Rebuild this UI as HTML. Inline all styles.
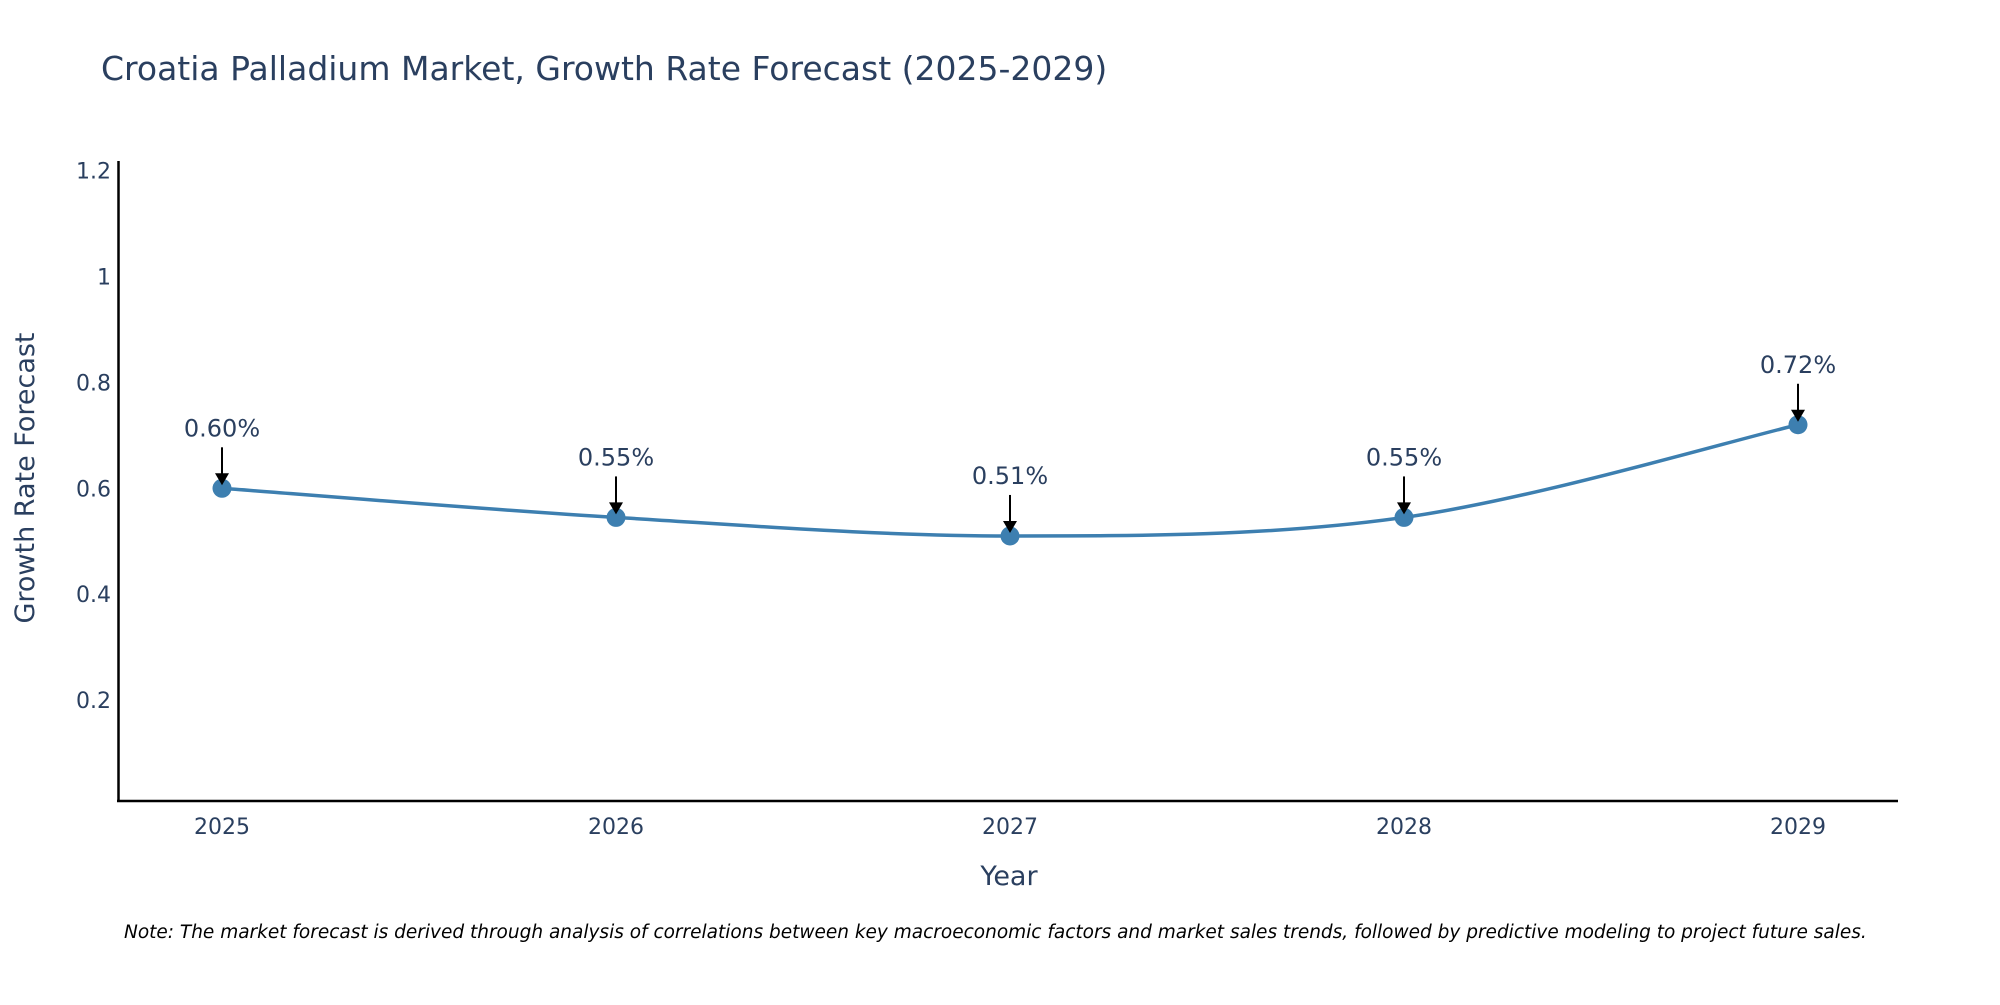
<!DOCTYPE html>
<html><head><meta charset="utf-8"><style>
body{margin:0;background:#fff;}
svg text{font-family:"DejaVu Sans","Liberation Sans",sans-serif;}
</style></head><body>
<svg id="chart" width="2000" height="1000" xmlns="http://www.w3.org/2000/svg">
<text x="101" y="80" font-size="33" fill="#2a3f5f">Croatia Palladium Market, Growth Rate Forecast (2025-2029)</text>
<g id="yticks"></g>
<g id="xticks"></g>
<line x1="118.5" y1="161" x2="118.5" y2="802" stroke="#000" stroke-width="2.5"/>
<line x1="117" y1="801" x2="1898" y2="801" stroke="#000" stroke-width="2.5"/>
<path id="line" fill="none" stroke="#3d7fb0" stroke-width="3.5"/>
<g id="points"></g>
<g id="annos"></g>
<text x="1009" y="885" font-size="27" fill="#2a3f5f" text-anchor="middle">Year</text>
<text transform="translate(34,478) rotate(-90)" font-size="27" fill="#2a3f5f" text-anchor="middle">Growth Rate Forecast</text>
<text x="124" y="938" font-size="18.5" font-style="italic" fill="#000">Note: The market forecast is derived through analysis of correlations between key macroeconomic factors and market sales trends, followed by predictive modeling to project future sales.</text>
</svg>
<script>
const years=[2025,2026,2027,2028,2029];
const values=[0.60,0.545,0.51,0.545,0.72];
const labels=["0.60%","0.55%","0.51%","0.55%","0.72%"];
const yTicks=[0.2,0.4,0.6,0.8,1,1.2];
const yTickLabels=["0.2","0.4","0.6","0.8","1","1.2"];
const NS="http://www.w3.org/2000/svg";
function X(v){return 222+(v-2025)*394;}
function Y(v){return 806-v*529.5;}
function mk(t,a,p){const e=document.createElementNS(NS,t);for(const k in a)e.setAttribute(k,a[k]);p.appendChild(e);return e;}
const yt=document.getElementById('yticks');
yTicks.forEach((v,i)=>{const t=mk('text',{x:111,y:Y(v)+8,'font-size':22,fill:'#2a3f5f','text-anchor':'end'},yt);t.textContent=yTickLabels[i];

});
const xt=document.getElementById('xticks');
years.forEach(v=>{const t=mk('text',{x:X(v),y:834,'font-size':22,fill:'#2a3f5f','text-anchor':'middle'},xt);t.textContent=v;

});
const P=years.map((y,i)=>[X(y),Y(values[i])]);
let d='M'+P[0][0]+','+P[0][1];
for(let i=0;i<P.length-1;i++){const p0=P[Math.max(0,i-1)],p1=P[i],p2=P[i+1],p3=P[Math.min(P.length-1,i+2)];const s=1/3;
d+=' C'+(p1[0]+(p2[0]-p0[0])*s/2)+','+(p1[1]+(p2[1]-p0[1])*s/2)+' '+(p2[0]-(p3[0]-p1[0])*s/2)+','+(p2[1]-(p3[1]-p1[1])*s/2)+' '+p2[0]+','+p2[1];}
document.getElementById('line').setAttribute('d',d);
const pts=document.getElementById('points'),an=document.getElementById('annos');
P.forEach((p,i)=>{const c=mk('circle',{cx:p[0],cy:p[1],r:9.5,fill:'#3d7fb0'},pts);


const l=mk('line',{x1:p[0],y1:p[1]-41,x2:p[0],y2:p[1]-14,stroke:'#000','stroke-width':2},an);


const h=mk('polygon',{points:`${p[0]-7},${p[1]-15} ${p[0]+7},${p[1]-15} ${p[0]},${p[1]-3}`,fill:'#000'},an);


const t=mk('text',{x:p[0],y:p[1]-52,'font-size':24,fill:'#2a3f5f','text-anchor':'middle'},an);t.textContent=labels[i];

});
</script>
</body></html>
